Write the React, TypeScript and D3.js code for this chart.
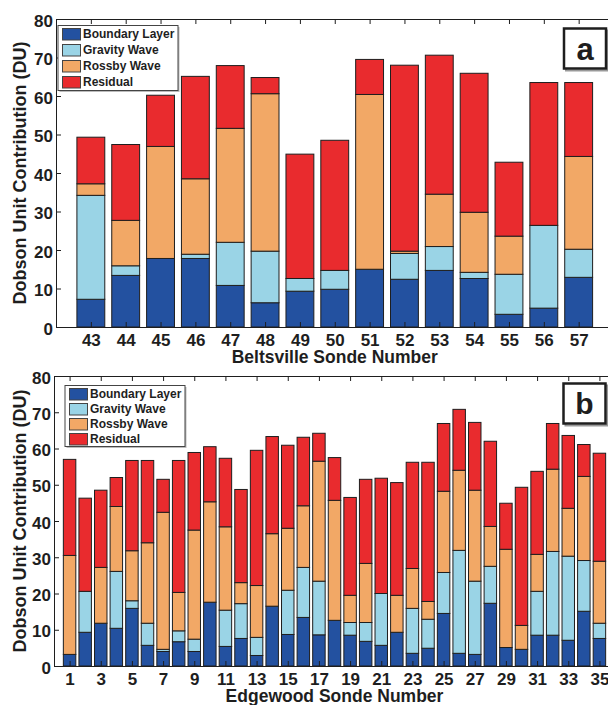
import React, { useEffect, useRef } from "react";
import * as d3 from "d3";

const seriesNames = ["Boundary Layer", "Gravity Wave", "Rossby Wave", "Residual"];
const seriesColors = ["#2351a0", "#9ad4e6", "#f2a866", "#e92b2e"];
const yTicks = [0, 10, 20, 30, 40, 50, 60, 70, 80];

// panel a: Beltsville
const beltsvilleSondes = [43, 44, 45, 46, 47, 48, 49, 50, 51, 52, 53, 54, 55, 56, 57];
const beltsvilleBoundary = [7.2, 13.4, 17.8, 17.8, 10.8, 6.3, 9.3, 9.8, 15.0, 12.4, 14.7, 12.6, 3.3, 4.9, 12.9];
const beltsvilleGravity = [27.0, 2.5, 0, 1.1, 11.2, 13.4, 3.3, 4.9, 0, 6.7, 6.2, 1.6, 10.4, 21.5, 7.3];
const beltsvilleRossby = [3.0, 11.8, 29.1, 19.6, 29.6, 40.9, 0, 0, 45.4, 0.6, 13.6, 15.6, 9.9, 0, 24.1];
const beltsvilleResidual = [12.1, 19.7, 13.3, 26.6, 16.3, 4.2, 32.3, 33.8, 9.1, 48.3, 36.1, 36.1, 19.2, 37.1, 19.2];

// panel b: Edgewood
const edgewoodSondes = [1, 2, 3, 4, 5, 6, 7, 8, 9, 10, 11, 12, 13, 14, 15, 16, 17, 18, 19, 20, 21, 22, 23, 24, 25, 26, 27, 28, 29, 30, 31, 32, 33, 34, 35];
const edgewoodTicks = [1, 3, 5, 7, 9, 11, 13, 15, 17, 19, 21, 23, 25, 27, 29, 31, 33, 35];
const edgewoodBoundary = [3.2, 9.3, 11.8, 10.4, 15.9, 5.7, 4.0, 6.7, 4.0, 17.6, 5.4, 7.6, 2.9, 16.5, 8.7, 13.4, 8.6, 12.6, 8.5, 6.8, 5.7, 9.3, 3.5, 4.9, 14.5, 3.5, 3.2, 17.3, 5.1, 4.6, 8.5, 8.5, 7.1, 15.1, 7.6];
const edgewoodGravity = [0, 11.3, 0, 15.7, 2.1, 6.1, 0.6, 3.0, 3.4, 0, 10.0, 9.6, 5.0, 0, 12.2, 13.8, 14.8, 0, 3.5, 5.2, 14.3, 0, 12.4, 8.0, 11.3, 28.4, 20.2, 10.2, 0, 0, 12.1, 23.1, 23.2, 14.0, 4.2];
const edgewoodRossby = [27.3, 0, 15.4, 17.9, 13.8, 22.2, 37.8, 10.6, 30.1, 27.7, 23.0, 5.8, 14.3, 20.0, 17.1, 17.0, 33.1, 33.1, 7.5, 16.3, 0, 10.2, 11.0, 4.9, 22.4, 22.1, 25.1, 11.0, 27.1, 6.6, 10.2, 22.7, 13.2, 23.2, 17.1];
const edgewoodResidual = [26.5, 25.7, 21.3, 8.0, 24.9, 22.7, 9.1, 36.4, 21.4, 15.2, 18.9, 25.7, 37.3, 26.8, 22.9, 18.9, 7.7, 11.8, 27.0, 23.2, 31.8, 31.1, 29.3, 38.4, 18.7, 16.8, 18.7, 23.5, 12.7, 38.1, 22.9, 12.6, 20.1, 8.8, 29.8];

const FONT = "'Liberation Sans', Arial, Helvetica, sans-serif";
const INK = "#1e1e1e";

type Panel = {
  sondes: number[];
  series: number[][];
  ticks: number[];
  xDomain: [number, number];
  left: number;
  right: number;
  top: number;
  bottom: number;
  xTitle: string;
  xTitleY: number;
  legend: { x: number; y: number; w: number; h: number; row: number };
  letter: { x: number; y: number; w: number; h: number; text: string; size: number };
};

function drawPanel(svg: d3.Selection<SVGSVGElement, unknown, null, undefined>, p: Panel) {
  const g = svg.append("g");
  const x = d3.scaleLinear().domain(p.xDomain).range([p.left, p.right]);
  const y = d3.scaleLinear().domain([0, 80]).range([p.bottom, p.top]);

  const rows = p.sondes.map((s, i) => {
    const r: any = { sonde: s };
    seriesNames.forEach((name, k) => (r[name] = p.series[k][i]));
    return r;
  });
  const stacked = d3.stack<any>().keys(seriesNames)(rows);
  const barW = (x(1) - x(0)) * 0.8;

  g.selectAll("g.layer")
    .data(stacked)
    .join("g")
    .attr("class", "layer")
    .attr("fill", (d, i) => seriesColors[i])
    .selectAll("rect")
    .data((d) => d)
    .join("rect")
    .attr("x", (d) => x(d.data.sonde) - barW / 2)
    .attr("y", (d) => y(d[1]))
    .attr("width", barW)
    .attr("height", (d) => y(d[0]) - y(d[1]))
    .attr("stroke", INK)
    .attr("stroke-width", 1);

  const styleAxis = (a: d3.Selection<SVGGElement, unknown, null, undefined>) => {
    a.attr("font-family", FONT)
      .attr("font-size", 17)
      .attr("font-weight", "bold")
      .attr("color", INK);
    a.selectAll("text").attr("fill", INK);
  };

  // bottom axis
  const bottomAxis = g.append("g")
    .attr("transform", `translate(0, ${p.bottom})`)
    .call(d3.axisBottom(x).tickValues(p.ticks).tickFormat(d3.format("d")).tickSize(-5).tickSizeOuter(0).tickPadding(7));
  styleAxis(bottomAxis);

  // top axis
  const topAxis = g.append("g")
    .attr("transform", `translate(0, ${p.top})`)
    .call(d3.axisTop(x).tickValues(p.ticks).tickFormat(() => "").tickSize(-5).tickSizeOuter(0));
  styleAxis(topAxis);

  // left axis
  const leftAxis = g.append("g")
    .attr("transform", `translate(${p.left}, 0)`)
    .call(d3.axisLeft(y).tickValues(yTicks).tickSize(-5).tickSizeOuter(0).tickPadding(3));
  styleAxis(leftAxis);
  leftAxis.selectAll("text").attr("dy", "0.42em");

  // right axis
  const rightAxis = g.append("g")
    .attr("transform", `translate(${p.right}, 0)`)
    .call(d3.axisRight(y).tickValues(yTicks).tickFormat(() => "").tickSize(-5).tickSizeOuter(0));
  styleAxis(rightAxis);

  // titles
  g.append("text")
    .attr("transform", `translate(26, ${(p.top + p.bottom) / 2}) rotate(-90)`)
    .attr("text-anchor", "middle")
    .attr("font-family", FONT)
    .attr("font-size", 18)
    .attr("font-weight", "bold")
    .attr("fill", INK)
    .text("Dobson Unit Contribution (DU)");

  g.append("text")
    .attr("x", (p.left + p.right) / 2)
    .attr("y", p.xTitleY)
    .attr("text-anchor", "middle")
    .attr("font-family", FONT)
    .attr("font-size", 17.5)
    .attr("font-weight", "bold")
    .attr("fill", INK)
    .text(p.xTitle);

  // legend
  const L = p.legend;
  const leg = g.append("g");
  leg.append("rect")
    .attr("x", L.x + 1.5).attr("y", L.y + 1.5)
    .attr("width", L.w).attr("height", L.h)
    .attr("fill", "#bbb");
  leg.append("rect")
    .attr("x", L.x).attr("y", L.y)
    .attr("width", L.w).attr("height", L.h)
    .attr("fill", "white")
    .attr("stroke", "#444")
    .attr("stroke-width", 1);
  seriesNames.forEach((name, i) => {
    const cy = L.y + 8.5 + i * L.row;
    leg.append("rect")
      .attr("x", L.x + 4.5).attr("y", cy - 5.5)
      .attr("width", 18).attr("height", 11.5)
      .attr("fill", seriesColors[i])
      .attr("stroke", "#444")
      .attr("stroke-width", 1);
    leg.append("text")
      .attr("x", L.x + 25).attr("y", cy)
      .attr("dy", "0.36em")
      .attr("font-family", FONT)
      .attr("font-size", 12)
      .attr("font-weight", "bold")
      .attr("fill", INK)
      .text(name);
  });

  // panel letter
  const B = p.letter;
  g.append("rect")
    .attr("x", B.x + 2).attr("y", B.y + 2)
    .attr("width", B.w).attr("height", B.h)
    .attr("fill", "none").attr("stroke", "#999").attr("stroke-width", 2);
  g.append("rect")
    .attr("x", B.x).attr("y", B.y)
    .attr("width", B.w).attr("height", B.h)
    .attr("fill", "white").attr("stroke", INK).attr("stroke-width", 2.5);
  g.append("text")
    .attr("x", B.x + B.w / 2).attr("y", B.y + B.h / 2)
    .attr("dy", "0.36em")
    .attr("text-anchor", "middle")
    .attr("font-family", FONT)
    .attr("font-size", B.size)
    .attr("font-weight", "bold")
    .attr("fill", INK)
    .text(B.text);
}

export default function App() {
  const ref = useRef<SVGSVGElement>(null);

  useEffect(() => {
    const svg = d3.select(ref.current as SVGSVGElement);
    svg.selectAll("*").remove();

    drawPanel(svg, {
      sondes: beltsvilleSondes,
      series: [beltsvilleBoundary, beltsvilleGravity, beltsvilleRossby, beltsvilleResidual],
      ticks: beltsvilleSondes,
      xDomain: [42, 58],
      left: 56,
      right: 613.5,
      top: 19,
      bottom: 327,
      xTitle: "Beltsville Sonde Number",
      xTitleY: 363,
      legend: { x: 58, y: 25.5, w: 120, h: 65, row: 16 },
      letter: { x: 564, y: 28.5, w: 42, h: 40, text: "a", size: 31 },
    });

    drawPanel(svg, {
      sondes: edgewoodSondes,
      series: [edgewoodBoundary, edgewoodGravity, edgewoodRossby, edgewoodResidual],
      ticks: edgewoodTicks,
      xDomain: [0, 36],
      left: 54,
      right: 615,
      top: 376,
      bottom: 666,
      xTitle: "Edgewood Sonde Number",
      xTitleY: 702,
      legend: { x: 65, y: 385.5, w: 120, h: 61, row: 15 },
      letter: { x: 563.5, y: 383.5, w: 42, h: 40, text: "b", size: 30 },
    });
  }, []);

  return (
    <svg
      ref={ref}
      width={608}
      height={705}
      style={{ position: "absolute", left: 0, top: 0, background: "white" }}
    />
  );
}
